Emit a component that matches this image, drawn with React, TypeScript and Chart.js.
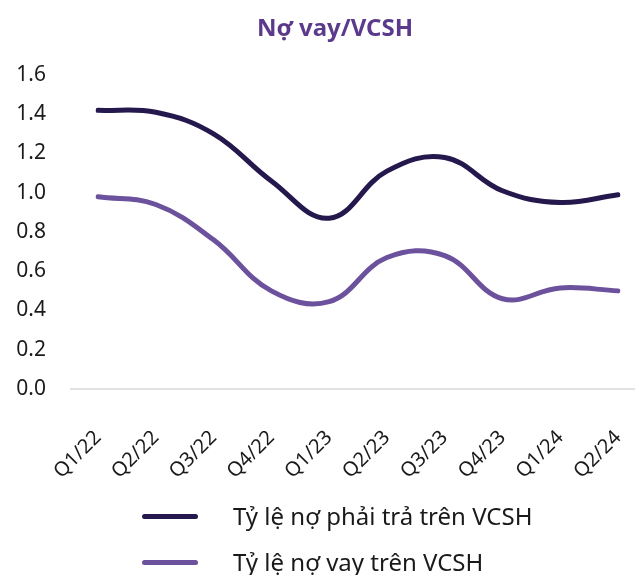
import React, { useEffect, useRef } from "react";
import { Chart, registerables } from "chart.js";

Chart.register(...registerables);

const title = "Nợ vay/VCSH";
const categories = ["Q1/22", "Q2/22", "Q3/22", "Q4/22", "Q1/23", "Q2/23", "Q3/23", "Q4/23", "Q1/24", "Q2/24"];
const seriesNames = ["Tỷ lệ nợ phải trả trên VCSH", "Tỷ lệ nợ vay trên VCSH"];
const totalDebtRatio = [1.42, 1.41, 1.30, 1.06, 0.87, 1.11, 1.18, 1.01, 0.95, 0.99];
const loanRatio = [0.98, 0.94, 0.76, 0.50, 0.445, 0.67, 0.68, 0.46, 0.515, 0.50];
const yTicks = [0, 0.2, 0.4, 0.6, 0.8, 1.0, 1.2, 1.4, 1.6];
const colors = ["#24184d", "#6c519c"];

const FONT = "'Noto Sans', sans-serif";

const baselinePlugin = {
  id: "baseline",
  beforeDatasetsDraw(chart: any) {
    const y = chart.scales.y.getPixelForValue(0);
    const ctx = chart.ctx;
    ctx.save();
    ctx.strokeStyle = "#d9d9d9";
    ctx.lineWidth = 1.5;
    ctx.beginPath();
    ctx.moveTo(70, y);
    ctx.lineTo(635, y);
    ctx.stroke();
    ctx.restore();
  },
};

export default function App() {
  const ref = useRef<HTMLCanvasElement>(null);
  useEffect(() => {
    if (!ref.current) return;
    const chart = new Chart(ref.current, {
      type: "line",
      data: {
        labels: categories,
        datasets: [
          { label: seriesNames[0], data: totalDebtRatio, borderColor: colors[0], backgroundColor: colors[0], borderWidth: 5, pointRadius: 0, tension: 0.4, borderCapStyle: "round" },
          { label: seriesNames[1], data: loanRatio, borderColor: colors[1], backgroundColor: colors[1], borderWidth: 5, pointRadius: 0, tension: 0.4, borderCapStyle: "round" },
        ],
      },
      options: {
        responsive: false,
        animation: false,
        layout: { padding: { top: 75, left: 0, right: 17, bottom: 0 } },
        plugins: { legend: { display: false }, tooltip: { enabled: false }, title: { display: false } },
        scales: {
          x: {
            offset: false,
            grid: { display: false, drawTicks: false },
            border: { display: false },
            ticks: { maxRotation: 45, minRotation: 45, padding: 37, color: "#1a1a1a", font: { family: FONT, size: 20 } },
            afterFit: (s: any) => { s.height = 575 - 389; s.paddingLeft = 0; s.paddingRight = 0; },
          },
          y: {
            min: 0,
            max: 1.6,
            afterBuildTicks: (s: any) => { s.ticks = yTicks.map((v) => ({ value: v })); },
            grid: { display: false, drawTicks: false },
            border: { display: false },
            ticks: { padding: 52, color: "#1a1a1a", font: { family: FONT, size: 21 }, callback: (v: any) => Number(v).toFixed(1) },
            afterFit: (s: any) => { s.width = 98; s.paddingTop = 0; s.paddingBottom = 0; },
          },
        },
      },
      plugins: [baselinePlugin],
    });
    return () => chart.destroy();
  }, []);

  return (
    <div style={{ position: "fixed", left: 0, top: 0, width: 635, height: 575, background: "#fff", fontFamily: FONT }}>
      <canvas ref={ref} width={635} height={575} style={{ position: "absolute", left: 0, top: 0 }} />
      <div style={{ position: "absolute", left: 0, width: 670, top: 10, lineHeight: "34px", textAlign: "center", color: "#5b3a8c", fontWeight: 700, fontSize: 24 }}>{title}</div>
      {seriesNames.map((n, i) => (
        <div key={n} style={{ position: "absolute", left: 142, top: 498 + i * 46, height: 36, display: "flex", alignItems: "center" }}>
          <div style={{ width: 56, height: 5, borderRadius: 3, background: colors[i] }} />
          <div style={{ marginLeft: 35, fontSize: 24, lineHeight: "36px", color: "#1a1a1a", whiteSpace: "nowrap" }}>{n}</div>
        </div>
      ))}
    </div>
  );
}
